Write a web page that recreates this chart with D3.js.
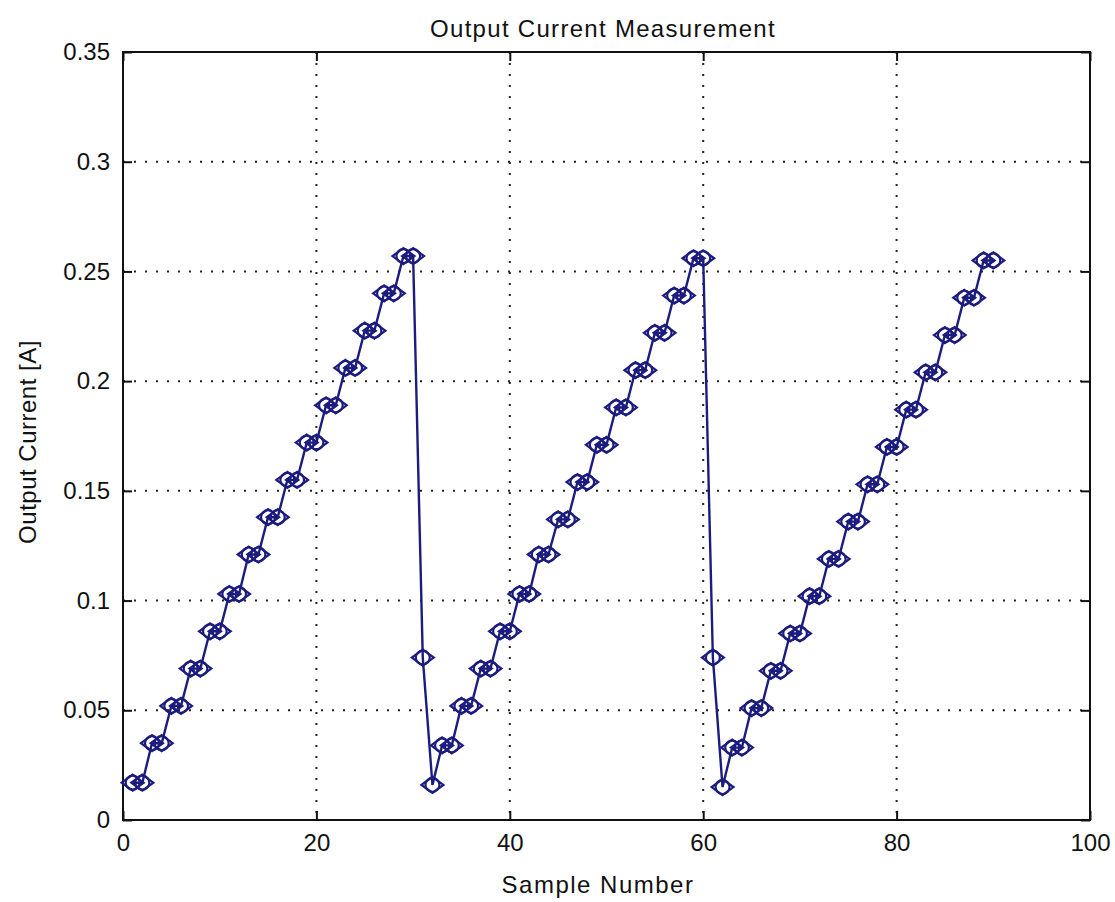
<!DOCTYPE html>
<html>
<head>
<meta charset="utf-8">
<script src="https://cdn.jsdelivr.net/npm/d3@7"></script>
<style>
  body { margin: 0; background: #fff; }
  text { font-family: "Liberation Sans", Arial, sans-serif; fill: #111; }
</style>
</head>
<body>
<script>
// Output current readings, sample 1..90
var currents = [
    0.017, 0.017, 0.035, 0.035, 0.052, 0.052, 0.069, 0.069, 0.086, 0.086,
    0.103, 0.103, 0.121, 0.121, 0.138, 0.138, 0.155, 0.155, 0.172, 0.172,
    0.189, 0.189, 0.206, 0.206, 0.223, 0.223, 0.240, 0.240, 0.257, 0.257,
    0.074, 0.016, 0.034, 0.034, 0.052, 0.052, 0.069, 0.069, 0.086, 0.086,
    0.103, 0.103, 0.121, 0.121, 0.137, 0.137, 0.154, 0.154, 0.171, 0.171,
    0.188, 0.188, 0.205, 0.205, 0.222, 0.222, 0.239, 0.239, 0.256, 0.256,
    0.074, 0.015, 0.033, 0.033, 0.051, 0.051, 0.068, 0.068, 0.085, 0.085,
    0.102, 0.102, 0.119, 0.119, 0.136, 0.136, 0.153, 0.153, 0.170, 0.170,
    0.187, 0.187, 0.204, 0.204, 0.221, 0.221, 0.238, 0.238, 0.255, 0.255
];
var samples = d3.range(1, currents.length + 1);

var xTicks = [0, 20, 40, 60, 80, 100];
var yTicks = [0, 0.05, 0.1, 0.15, 0.2, 0.25, 0.3, 0.35];
var yTickLabels = ["0", "0.05", "0.1", "0.15", "0.2", "0.25", "0.3", "0.35"];

var width = 1115, height = 902;
var margin = { top: 52, right: 25, bottom: 82, left: 123 };
var innerW = width - margin.left - margin.right;
var innerH = height - margin.top - margin.bottom;
var lineColor = "#1c1c7e";

var svg = d3.select("body")
    .append("svg")
    .attr("width", width)
    .attr("height", height);

var g = svg.append("g")
    .attr("transform", "translate(" + margin.left + "," + margin.top + ")");

var x = d3.scaleLinear().domain([0, 100]).range([0, innerW]);
var y = d3.scaleLinear().domain([0, 0.35]).range([innerH, 0]);

// dotted grid
g.append("g").selectAll("line")
    .data(xTicks.slice(1, -1))
    .enter().append("line")
    .attr("x1", function (d) { return x(d); })
    .attr("x2", function (d) { return x(d); })
    .attr("y1", 0).attr("y2", innerH)
    .attr("stroke", "#222").attr("stroke-width", 2)
    .attr("stroke-dasharray", "2,9");

g.append("g").selectAll("line")
    .data(yTicks.slice(1, -1))
    .enter().append("line")
    .attr("y1", function (d) { return y(d); })
    .attr("y2", function (d) { return y(d); })
    .attr("x1", 0).attr("x2", innerW)
    .attr("stroke", "#222").attr("stroke-width", 2)
    .attr("stroke-dasharray", "2,9");

// axes, ticks pointing inward (MATLAB style)
var axisStyle = function (sel) {
    sel.select(".domain").remove();
    sel.selectAll(".tick line").attr("stroke", "#111").attr("stroke-width", 2);
    sel.selectAll(".tick text")
        .style("font-family", "'Liberation Sans', Arial, sans-serif")
        .style("font-size", "24px").attr("fill", "#111");
};

g.append("g")
    .attr("transform", "translate(0," + innerH + ")")
    .call(d3.axisBottom(x).tickValues(xTicks).tickSizeInner(-9).tickPadding(14).tickSizeOuter(0))
    .call(axisStyle);

g.append("g")
    .call(d3.axisLeft(y).tickValues(yTicks).tickSizeInner(-9).tickPadding(13).tickSizeOuter(0)
        .tickFormat(function (d, i) { return yTickLabels[i]; }))
    .call(axisStyle);

g.append("g")
    .call(d3.axisTop(x).tickValues(xTicks).tickSizeInner(-9).tickFormat("").tickSizeOuter(0))
    .call(axisStyle);

g.append("g")
    .attr("transform", "translate(" + innerW + ",0)")
    .call(d3.axisRight(y).tickValues(yTicks).tickSizeInner(-9).tickFormat("").tickSizeOuter(0))
    .call(axisStyle);

// frame
g.append("rect")
    .attr("width", innerW).attr("height", innerH)
    .attr("fill", "none").attr("stroke", "#111").attr("stroke-width", 2);

// data line
var line = d3.line()
    .x(function (d, i) { return x(samples[i]); })
    .y(function (d) { return y(d); });

g.append("path")
    .datum(currents)
    .attr("d", line)
    .attr("fill", "none")
    .attr("stroke", lineColor)
    .attr("stroke-width", 2.4);

// markers: circle + diamond
var marks = g.append("g").selectAll("g")
    .data(currents)
    .enter().append("g")
    .attr("transform", function (d, i) { return "translate(" + x(samples[i]) + "," + y(d) + ")"; });

marks.append("path")
    .attr("d", "M-11,0L0,-8L11,0L0,8Z")
    .attr("fill", "none").attr("stroke", lineColor).attr("stroke-width", 2.2);

marks.append("circle")
    .attr("r", 7)
    .attr("fill", "none").attr("stroke", lineColor).attr("stroke-width", 2.2);

// labels
svg.append("text")
    .attr("x", 603).attr("y", 37)
    .attr("text-anchor", "middle")
    .style("font-size", "24px")
    .style("letter-spacing", "1.3px")
    .text("Output Current Measurement");

svg.append("text")
    .attr("x", 598).attr("y", 893)
    .attr("text-anchor", "middle")
    .style("font-size", "24px")
    .style("letter-spacing", "1.5px")
    .text("Sample Number");

svg.append("text")
    .attr("transform", "translate(36," + 442 + ") rotate(-90)")
    .attr("text-anchor", "middle")
    .style("font-size", "24px")
    .style("letter-spacing", "0.5px")
    .text("Output Current [A]");
</script>
</body>
</html>
